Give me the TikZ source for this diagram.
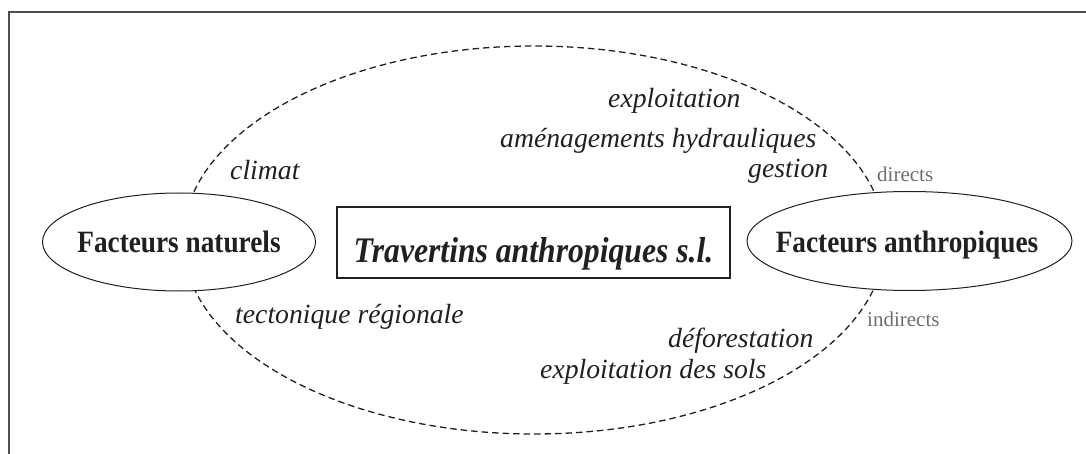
\documentclass[tikz,border=0pt]{standalone}
\usepackage{fontspec}
\setmainfont{Liberation Serif}
\newfontfamily\condserif{Liberation Serif}[FakeStretch=0.88]
\usetikzlibrary{shapes.geometric}
\definecolor{ink}{HTML}{231F20}
\definecolor{greyink}{HTML}{6E6E6E}
\begin{document}
\begin{tikzpicture}[x=1pt,y=-1pt,text=ink]

    \useasboundingbox (0,0) rectangle (1086,454);
    \draw[line width=1.5pt, ink!80] (9,454) -- (9,12) -- (1086,12);

    % big dashed loop
    \draw[ink, line width=1.3pt, dash pattern=on 6.5pt off 4pt] (534,240) ellipse [x radius=351, y radius=194];

    \node[ellipse, draw = ink, fill = white, line width=1pt, inner sep=0pt, minimum width=273pt, minimum height=98pt] (nat) at (179,242) {};
    \node[ellipse, draw = ink, fill = white, line width=1pt, inner sep=0pt, minimum width=325pt, minimum height=99pt] (anth) at (909.5,241) {};
    \node[anchor=base, inner sep=0pt, font=\condserif\bfseries\fontsize{31}{36}\selectfont] (nattxt) at (179,252) {Facteurs naturels};
    \node[anchor=base, inner sep=0pt, font=\condserif\bfseries\fontsize{31}{36}\selectfont] (anthtxt) at (907,252) {Facteurs anthropiques};

    \node[draw = ink, fill = white, line width=1.5pt, inner sep=0pt, minimum width=393pt, text height=55pt, text depth=16pt, anchor=base, font=\condserif\bfseries\itshape\fontsize{36}{42}\selectfont] (trav) at (533.5,262) {Travertins anthropiques s.l.};

    \foreach \x/\y/\t in {230/180/climat, 608/108/exploitation, 500/148/aménagements hydrauliques, 748/178/gestion, 235/323/tectonique régionale, 668/347/déforestation, 540/378/exploitation des sols}{
    \node[anchor=base west, inner sep=0pt, font=\itshape\fontsize{27.7}{33}\selectfont] (lab\x) at (\x,\y) {\t};
}

    \node[anchor=base west, inner sep=0pt, text=greyink, font=\fontsize{21}{25}\selectfont] (dir) at (877,182) {directs};
    \node[anchor=base west, inner sep=0pt, text=greyink, font=\fontsize{21}{25}\selectfont] (indir) at (867,326) {indirects};

\end{tikzpicture}
\end{document}
